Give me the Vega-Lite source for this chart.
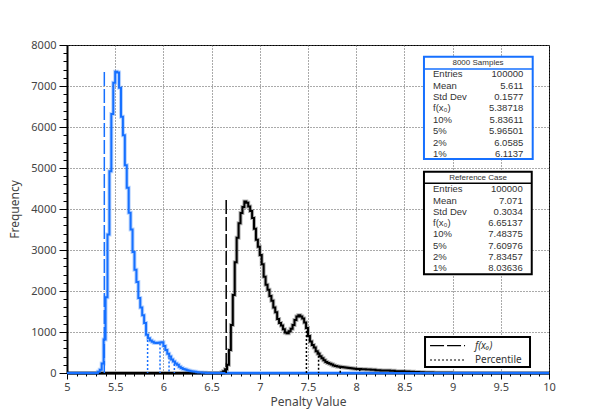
{
  "$schema": "https://vega.github.io/schema/vega-lite/v6.json",
  "width": 482,
  "height": 328,
  "autosize": {"type": "none"},
  "padding": {"left": 67, "top": 45, "right": 53, "bottom": 42},
  "background": "white",
  "config": {
    "view": {"stroke": "#000", "strokeWidth": 1},
    "font": "Noto Sans",
    "axis": {
      "labelFont": "Noto Sans", "titleFont": "Noto Sans",
      "labelFontSize": 11, "titleFontSize": 12,
      "labelColor": "#444", "titleColor": "#444", "titleFontWeight": "normal",
      "domainColor": "#000", "domainWidth": 2,
      "tickColor": "#000", "tickWidth": 1,
      "gridColor": "#555", "gridDash": [1, 2], "gridWidth": 1,
      "labelFlush": false, "labelOverlap": false
    }
  },
  "datasets": {
    "hist": [
      {"series": "8000 Samples", "x": 5.00, "count": 0},
      {"series": "8000 Samples", "x": 5.30, "count": 0},
      {"series": "8000 Samples", "x": 5.32, "count": 30},
      {"series": "8000 Samples", "x": 5.34, "count": 80},
      {"series": "8000 Samples", "x": 5.36, "count": 230},
      {"series": "8000 Samples", "x": 5.38, "count": 820},
      {"series": "8000 Samples", "x": 5.40, "count": 1850},
      {"series": "8000 Samples", "x": 5.42, "count": 3380},
      {"series": "8000 Samples", "x": 5.44, "count": 4920},
      {"series": "8000 Samples", "x": 5.46, "count": 6320},
      {"series": "8000 Samples", "x": 5.48, "count": 7080},
      {"series": "8000 Samples", "x": 5.50, "count": 7350},
      {"series": "8000 Samples", "x": 5.52, "count": 7330},
      {"series": "8000 Samples", "x": 5.54, "count": 6960},
      {"series": "8000 Samples", "x": 5.56, "count": 6250},
      {"series": "8000 Samples", "x": 5.58, "count": 5800},
      {"series": "8000 Samples", "x": 5.60, "count": 5070},
      {"series": "8000 Samples", "x": 5.62, "count": 4520},
      {"series": "8000 Samples", "x": 5.64, "count": 3910},
      {"series": "8000 Samples", "x": 5.66, "count": 3500},
      {"series": "8000 Samples", "x": 5.68, "count": 2950},
      {"series": "8000 Samples", "x": 5.70, "count": 2520},
      {"series": "8000 Samples", "x": 5.72, "count": 2220},
      {"series": "8000 Samples", "x": 5.74, "count": 1830},
      {"series": "8000 Samples", "x": 5.76, "count": 1600},
      {"series": "8000 Samples", "x": 5.78, "count": 1410},
      {"series": "8000 Samples", "x": 5.80, "count": 1220},
      {"series": "8000 Samples", "x": 5.82, "count": 930},
      {"series": "8000 Samples", "x": 5.84, "count": 850},
      {"series": "8000 Samples", "x": 5.86, "count": 790},
      {"series": "8000 Samples", "x": 5.88, "count": 760},
      {"series": "8000 Samples", "x": 5.90, "count": 740},
      {"series": "8000 Samples", "x": 5.92, "count": 730},
      {"series": "8000 Samples", "x": 5.94, "count": 740},
      {"series": "8000 Samples", "x": 5.96, "count": 745},
      {"series": "8000 Samples", "x": 5.98, "count": 750},
      {"series": "8000 Samples", "x": 6.00, "count": 660},
      {"series": "8000 Samples", "x": 6.02, "count": 560},
      {"series": "8000 Samples", "x": 6.04, "count": 470},
      {"series": "8000 Samples", "x": 6.06, "count": 400},
      {"series": "8000 Samples", "x": 6.08, "count": 330},
      {"series": "8000 Samples", "x": 6.10, "count": 280},
      {"series": "8000 Samples", "x": 6.12, "count": 230},
      {"series": "8000 Samples", "x": 6.14, "count": 200},
      {"series": "8000 Samples", "x": 6.16, "count": 150},
      {"series": "8000 Samples", "x": 6.18, "count": 120},
      {"series": "8000 Samples", "x": 6.20, "count": 100},
      {"series": "8000 Samples", "x": 6.22, "count": 85},
      {"series": "8000 Samples", "x": 6.24, "count": 70},
      {"series": "8000 Samples", "x": 6.26, "count": 55},
      {"series": "8000 Samples", "x": 6.28, "count": 45},
      {"series": "8000 Samples", "x": 6.30, "count": 35},
      {"series": "8000 Samples", "x": 6.32, "count": 28},
      {"series": "8000 Samples", "x": 6.34, "count": 20},
      {"series": "8000 Samples", "x": 6.36, "count": 15},
      {"series": "8000 Samples", "x": 6.38, "count": 10},
      {"series": "8000 Samples", "x": 6.40, "count": 5},
      {"series": "8000 Samples", "x": 6.44, "count": 0},
      {"series": "8000 Samples", "x": 10.0, "count": 0},
      {"series": "Reference Case", "x": 5.00, "count": 0},
      {"series": "Reference Case", "x": 6.58, "count": 0},
      {"series": "Reference Case", "x": 6.60, "count": 15},
      {"series": "Reference Case", "x": 6.62, "count": 40},
      {"series": "Reference Case", "x": 6.64, "count": 90},
      {"series": "Reference Case", "x": 6.66, "count": 200},
      {"series": "Reference Case", "x": 6.68, "count": 560},
      {"series": "Reference Case", "x": 6.70, "count": 1170},
      {"series": "Reference Case", "x": 6.72, "count": 1900},
      {"series": "Reference Case", "x": 6.74, "count": 2700},
      {"series": "Reference Case", "x": 6.76, "count": 3300},
      {"series": "Reference Case", "x": 6.78, "count": 3650},
      {"series": "Reference Case", "x": 6.80, "count": 3900},
      {"series": "Reference Case", "x": 6.82, "count": 4050},
      {"series": "Reference Case", "x": 6.84, "count": 4180},
      {"series": "Reference Case", "x": 6.86, "count": 4150},
      {"series": "Reference Case", "x": 6.88, "count": 4060},
      {"series": "Reference Case", "x": 6.90, "count": 3950},
      {"series": "Reference Case", "x": 6.92, "count": 3780},
      {"series": "Reference Case", "x": 6.94, "count": 3520},
      {"series": "Reference Case", "x": 6.96, "count": 3250},
      {"series": "Reference Case", "x": 6.98, "count": 3080},
      {"series": "Reference Case", "x": 7.00, "count": 2880},
      {"series": "Reference Case", "x": 7.02, "count": 2650},
      {"series": "Reference Case", "x": 7.04, "count": 2350},
      {"series": "Reference Case", "x": 7.06, "count": 2150},
      {"series": "Reference Case", "x": 7.08, "count": 2030},
      {"series": "Reference Case", "x": 7.10, "count": 1880},
      {"series": "Reference Case", "x": 7.12, "count": 1760},
      {"series": "Reference Case", "x": 7.14, "count": 1600},
      {"series": "Reference Case", "x": 7.16, "count": 1480},
      {"series": "Reference Case", "x": 7.18, "count": 1320},
      {"series": "Reference Case", "x": 7.20, "count": 1220},
      {"series": "Reference Case", "x": 7.22, "count": 1160},
      {"series": "Reference Case", "x": 7.24, "count": 1070},
      {"series": "Reference Case", "x": 7.26, "count": 990},
      {"series": "Reference Case", "x": 7.28, "count": 970},
      {"series": "Reference Case", "x": 7.30, "count": 1020},
      {"series": "Reference Case", "x": 7.32, "count": 1080},
      {"series": "Reference Case", "x": 7.34, "count": 1170},
      {"series": "Reference Case", "x": 7.36, "count": 1290},
      {"series": "Reference Case", "x": 7.38, "count": 1380},
      {"series": "Reference Case", "x": 7.40, "count": 1410},
      {"series": "Reference Case", "x": 7.42, "count": 1380},
      {"series": "Reference Case", "x": 7.44, "count": 1330},
      {"series": "Reference Case", "x": 7.46, "count": 1230},
      {"series": "Reference Case", "x": 7.48, "count": 1100},
      {"series": "Reference Case", "x": 7.50, "count": 900},
      {"series": "Reference Case", "x": 7.52, "count": 770},
      {"series": "Reference Case", "x": 7.54, "count": 680},
      {"series": "Reference Case", "x": 7.56, "count": 620},
      {"series": "Reference Case", "x": 7.58, "count": 530},
      {"series": "Reference Case", "x": 7.60, "count": 470},
      {"series": "Reference Case", "x": 7.62, "count": 410},
      {"series": "Reference Case", "x": 7.64, "count": 360},
      {"series": "Reference Case", "x": 7.66, "count": 310},
      {"series": "Reference Case", "x": 7.68, "count": 270},
      {"series": "Reference Case", "x": 7.70, "count": 245},
      {"series": "Reference Case", "x": 7.72, "count": 225},
      {"series": "Reference Case", "x": 7.74, "count": 205},
      {"series": "Reference Case", "x": 7.76, "count": 185},
      {"series": "Reference Case", "x": 7.78, "count": 170},
      {"series": "Reference Case", "x": 7.80, "count": 160},
      {"series": "Reference Case", "x": 7.82, "count": 150},
      {"series": "Reference Case", "x": 7.84, "count": 145},
      {"series": "Reference Case", "x": 7.86, "count": 140},
      {"series": "Reference Case", "x": 7.88, "count": 135},
      {"series": "Reference Case", "x": 7.90, "count": 128},
      {"series": "Reference Case", "x": 7.92, "count": 122},
      {"series": "Reference Case", "x": 7.94, "count": 116},
      {"series": "Reference Case", "x": 7.96, "count": 110},
      {"series": "Reference Case", "x": 7.98, "count": 105},
      {"series": "Reference Case", "x": 8.00, "count": 100},
      {"series": "Reference Case", "x": 8.05, "count": 92},
      {"series": "Reference Case", "x": 8.10, "count": 85},
      {"series": "Reference Case", "x": 8.15, "count": 78},
      {"series": "Reference Case", "x": 8.20, "count": 70},
      {"series": "Reference Case", "x": 8.25, "count": 64},
      {"series": "Reference Case", "x": 8.30, "count": 58},
      {"series": "Reference Case", "x": 8.35, "count": 52},
      {"series": "Reference Case", "x": 8.40, "count": 45},
      {"series": "Reference Case", "x": 8.45, "count": 40},
      {"series": "Reference Case", "x": 8.50, "count": 35},
      {"series": "Reference Case", "x": 8.55, "count": 30},
      {"series": "Reference Case", "x": 8.60, "count": 25},
      {"series": "Reference Case", "x": 8.65, "count": 20},
      {"series": "Reference Case", "x": 8.70, "count": 15},
      {"series": "Reference Case", "x": 8.80, "count": 8},
      {"series": "Reference Case", "x": 8.90, "count": 4},
      {"series": "Reference Case", "x": 9.00, "count": 2},
      {"series": "Reference Case", "x": 9.20, "count": 0},
      {"series": "Reference Case", "x": 10.0, "count": 0}
    ],
    "markers": [
      {"series": "8000 Samples", "kind": "f(x0)", "x": 5.38718, "height": 7340},
      {"series": "8000 Samples", "kind": "Percentile", "x": 5.83611, "height": 900},
      {"series": "8000 Samples", "kind": "Percentile", "x": 5.96501, "height": 720},
      {"series": "8000 Samples", "kind": "Percentile", "x": 6.0585, "height": 380},
      {"series": "8000 Samples", "kind": "Percentile", "x": 6.1137, "height": 220},
      {"series": "Reference Case", "kind": "f(x0)", "x": 6.65137, "height": 4220},
      {"series": "Reference Case", "kind": "Percentile", "x": 7.48375, "height": 1120},
      {"series": "Reference Case", "kind": "Percentile", "x": 7.60976, "height": 520},
      {"series": "Reference Case", "kind": "Percentile", "x": 7.83457, "height": 150},
      {"series": "Reference Case", "kind": "Percentile", "x": 8.03636, "height": 95}
    ],
    "stats": [
      {"box": "8000 Samples", "row": 1, "stat": "Entries", "value": "100000"},
      {"box": "8000 Samples", "row": 2, "stat": "Mean", "value": "5.611"},
      {"box": "8000 Samples", "row": 3, "stat": "Std Dev", "value": "0.1577"},
      {"box": "8000 Samples", "row": 4, "stat": "f(x₀)", "value": "5.38718"},
      {"box": "8000 Samples", "row": 5, "stat": "10%", "value": "5.83611"},
      {"box": "8000 Samples", "row": 6, "stat": "5%", "value": "5.96501"},
      {"box": "8000 Samples", "row": 7, "stat": "2%", "value": "6.0585"},
      {"box": "8000 Samples", "row": 8, "stat": "1%", "value": "6.1137"},
      {"box": "Reference Case", "row": 1, "stat": "Entries", "value": "100000"},
      {"box": "Reference Case", "row": 2, "stat": "Mean", "value": "7.071"},
      {"box": "Reference Case", "row": 3, "stat": "Std Dev", "value": "0.3034"},
      {"box": "Reference Case", "row": 4, "stat": "f(x₀)", "value": "6.65137"},
      {"box": "Reference Case", "row": 5, "stat": "10%", "value": "7.48375"},
      {"box": "Reference Case", "row": 6, "stat": "5%", "value": "7.60976"},
      {"box": "Reference Case", "row": 7, "stat": "2%", "value": "7.83457"},
      {"box": "Reference Case", "row": 8, "stat": "1%", "value": "8.03636"}
    ]
  },
  "layer": [
    {
      "resolve": {"axis": {"x": "independent", "y": "independent"}},
      "layer": [
        {
          "data": {"name": "hist"},
          "mark": {"type": "line", "interpolate": "step-after", "strokeWidth": 4, "opacity": 0.3},
          "encoding": {
            "x": {"field": "x", "type": "quantitative", "scale": {"domain": [5, 10], "nice": false, "zero": false},
              "axis": {
                "orient": "bottom", "title": "Penalty Value", "titlePadding": 4, "format": "~g",
                "values": [5, 5.5, 6, 6.5, 7, 7.5, 8, 8.5, 9, 9.5, 10],
                "labelPadding": 2, "tickSize": 6, "grid": true
              }},
            "y": {"field": "count", "type": "quantitative", "scale": {"domain": [0, 8000], "nice": false},
              "axis": {
                "orient": "left", "title": "Frequency", "titlePadding": 9, "format": "d",
                "values": [0, 1000, 2000, 3000, 4000, 5000, 6000, 7000, 8000],
                "labelPadding": 3, "tickSize": 8, "grid": true
              }},
            "color": {"field": "series", "type": "nominal", "scale": {"domain": ["8000 Samples", "Reference Case"], "range": ["#1670ff", "#000000"]}, "legend": null},
            "detail": {"field": "series", "type": "nominal"}
          }
        },
        {
          "data": {"name": "hist"},
          "transform": [{"filter": "datum.series === 'Reference Case'"}],
          "mark": {"type": "line", "interpolate": "step-after", "strokeWidth": 2},
          "encoding": {
            "x": {"field": "x", "type": "quantitative", "axis": null},
            "y": {"field": "count", "type": "quantitative", "axis": null},
            "color": {"field": "series", "type": "nominal", "legend": null}
          }
        },
        {
          "data": {"name": "hist"},
          "transform": [{"filter": "datum.series === '8000 Samples'"}],
          "mark": {"type": "line", "interpolate": "step-after", "strokeWidth": 2},
          "encoding": {
            "x": {"field": "x", "type": "quantitative", "axis": null},
            "y": {"field": "count", "type": "quantitative", "axis": null},
            "color": {"field": "series", "type": "nominal", "legend": null}
          }
        },
        {
          "data": {"name": "markers"},
          "transform": [{"filter": "datum.kind === 'f(x0)'"}],
          "mark": {"type": "rule", "strokeDash": [14, 3], "strokeWidth": 1.5},
          "encoding": {
            "x": {"field": "x", "type": "quantitative", "axis": null},
            "y": {"field": "height", "type": "quantitative", "axis": null},
            "y2": {"datum": 0},
            "color": {"field": "series", "type": "nominal", "legend": null}
          }
        },
        {
          "data": {"name": "markers"},
          "transform": [{"filter": "datum.kind === 'Percentile'"}],
          "mark": {"type": "rule", "strokeDash": [2, 2], "strokeWidth": 1.5},
          "encoding": {
            "x": {"field": "x", "type": "quantitative",
              "axis": {"orient": "bottom", "title": null, "labels": false, "domain": false, "grid": false, "tickSize": 3,
                "values": [5.1,5.2,5.3,5.4,5.6,5.7,5.8,5.9,6.1,6.2,6.3,6.4,6.6,6.7,6.8,6.9,7.1,7.2,7.3,7.4,7.6,7.7,7.8,7.9,8.1,8.2,8.3,8.4,8.6,8.7,8.8,8.9,9.1,9.2,9.3,9.4,9.6,9.7,9.8,9.9]}},
            "y": {"field": "height", "type": "quantitative",
              "axis": {"orient": "left", "title": null, "labels": false, "domain": false, "grid": false, "tickSize": 4,
                "values": [200,400,600,800,1200,1400,1600,1800,2200,2400,2600,2800,3200,3400,3600,3800,4200,4400,4600,4800,5200,5400,5600,5800,6200,6400,6600,6800,7200,7400,7600,7800]}},
            "y2": {"datum": 0},
            "color": {"field": "series", "type": "nominal", "legend": null}
          }
        },
        {
          "data": {"values": [{}]},
          "mark": {"type": "rect", "fill": "white", "stroke": "#1670ff", "strokeWidth": 2},
          "encoding": {"x": {"datum": 8.703, "type": "quantitative", "axis": null}, "x2": {"datum": 9.831}, "y": {"datum": 7715, "type": "quantitative", "axis": null}, "y2": {"datum": 5220}}
        },
        {
          "data": {"values": [{}]},
          "mark": {"type": "rule", "stroke": "#1670ff", "strokeWidth": 1.5},
          "encoding": {"x": {"datum": 8.703, "type": "quantitative", "axis": null}, "x2": {"datum": 9.831}, "y": {"datum": 7415, "type": "quantitative", "axis": null}}
        },
        {
          "data": {"values": [{}]},
          "mark": {"type": "rect", "fill": "white", "stroke": "#000", "strokeWidth": 2},
          "encoding": {"x": {"datum": 8.703, "type": "quantitative", "axis": null}, "x2": {"datum": 9.821}, "y": {"datum": 4910, "type": "quantitative", "axis": null}, "y2": {"datum": 2407}}
        },
        {
          "data": {"values": [{}]},
          "mark": {"type": "rule", "stroke": "#000", "strokeWidth": 1.5},
          "encoding": {"x": {"datum": 8.703, "type": "quantitative", "axis": null}, "x2": {"datum": 9.821}, "y": {"datum": 4627, "type": "quantitative", "axis": null}}
        },
        {
          "data": {"values": [{}]},
          "mark": {"type": "rect", "fill": "white", "stroke": "#000", "strokeWidth": 2},
          "encoding": {"x": {"datum": 8.714, "type": "quantitative", "axis": null}, "x2": {"datum": 9.803}, "y": {"datum": 878, "type": "quantitative", "axis": null}, "y2": {"datum": 146}}
        },
        {
          "data": {"values": [{}]},
          "mark": {"type": "rule", "stroke": "#000", "strokeWidth": 1.2, "strokeDash": [14, 3]},
          "encoding": {"x": {"datum": 8.766, "type": "quantitative", "axis": null}, "x2": {"datum": 9.129}, "y": {"datum": 666, "type": "quantitative", "axis": null}}
        },
        {
          "data": {"values": [{}]},
          "mark": {"type": "rule", "stroke": "#000", "strokeWidth": 1.2, "strokeDash": [2, 2]},
          "encoding": {"x": {"datum": 8.766, "type": "quantitative", "axis": null}, "x2": {"datum": 9.129}, "y": {"datum": 317, "type": "quantitative", "axis": null}}
        },
        {
          "data": {"values": [{}]},
          "mark": {"type": "text", "text": "f(x₀)", "align": "left", "baseline": "middle", "fontSize": 10, "color": "#333", "fontStyle": "italic"},
          "encoding": {"x": {"datum": 9.232, "type": "quantitative", "axis": null}, "y": {"datum": 666, "type": "quantitative", "axis": null}}
        },
        {
          "data": {"values": [{}]},
          "mark": {"type": "text", "text": "Percentile", "align": "left", "baseline": "middle", "fontSize": 10, "color": "#333"},
          "encoding": {"x": {"datum": 9.232, "type": "quantitative", "axis": null}, "y": {"datum": 317, "type": "quantitative", "axis": null}}
        }
      ]
    },
    {
      "data": {"name": "stats"},
      "transform": [{"filter": "datum.box === '8000 Samples'"}],
      "layer": [
        {
          "mark": {"type": "text", "align": "left", "baseline": "middle", "fontSize": 9.5, "font": "Liberation Sans", "color": "#333"},
          "encoding": {
            "x": {"datum": 8.797, "type": "quantitative", "axis": null},
            "y": {"field": "row", "type": "quantitative", "scale": {"domain": [-1.572, 27.226], "reverse": true, "nice": false, "zero": false}, "axis": null},
            "text": {"field": "stat", "type": "nominal"}
          }
        },
        {
          "mark": {"type": "text", "align": "right", "baseline": "middle", "fontSize": 9.5, "font": "Liberation Sans", "color": "#333"},
          "encoding": {
            "x": {"datum": 9.733, "type": "quantitative", "axis": null},
            "y": {"field": "row", "type": "quantitative", "axis": null},
            "text": {"field": "value", "type": "nominal"}
          }
        },
        {
          "transform": [{"aggregate": [{"op": "min", "field": "row", "as": "first"}], "groupby": ["box"]}],
          "mark": {"type": "text", "align": "center", "baseline": "middle", "fontSize": 8, "font": "Liberation Sans", "color": "#333", "dy": -11.39},
          "encoding": {
            "x": {"datum": 9.264, "type": "quantitative", "axis": null},
            "y": {"field": "first", "type": "quantitative", "axis": null},
            "text": {"field": "box", "type": "nominal"}
          }
        }
      ]
    },
    {
      "data": {"name": "stats"},
      "transform": [{"filter": "datum.box === 'Reference Case'"}],
      "layer": [
        {
          "mark": {"type": "text", "align": "left", "baseline": "middle", "fontSize": 9.5, "font": "Liberation Sans", "color": "#333"},
          "encoding": {
            "x": {"datum": 8.797, "type": "quantitative", "axis": null},
            "y": {"field": "row", "type": "quantitative", "scale": {"domain": [-11.78, 17.27], "reverse": true, "nice": false, "zero": false}, "axis": null},
            "text": {"field": "stat", "type": "nominal"}
          }
        },
        {
          "mark": {"type": "text", "align": "right", "baseline": "middle", "fontSize": 9.5, "font": "Liberation Sans", "color": "#333"},
          "encoding": {
            "x": {"datum": 9.727, "type": "quantitative", "axis": null},
            "y": {"field": "row", "type": "quantitative", "axis": null},
            "text": {"field": "value", "type": "nominal"}
          }
        },
        {
          "transform": [{"aggregate": [{"op": "min", "field": "row", "as": "first"}], "groupby": ["box"]}],
          "mark": {"type": "text", "align": "center", "baseline": "middle", "fontSize": 8, "font": "Liberation Sans", "color": "#333", "dy": -11.29},
          "encoding": {
            "x": {"datum": 9.264, "type": "quantitative", "axis": null},
            "y": {"field": "first", "type": "quantitative", "axis": null},
            "text": {"field": "box", "type": "nominal"}
          }
        }
      ]
    }
  ],
  "resolve": {"scale": {"y": "independent"}}
}
